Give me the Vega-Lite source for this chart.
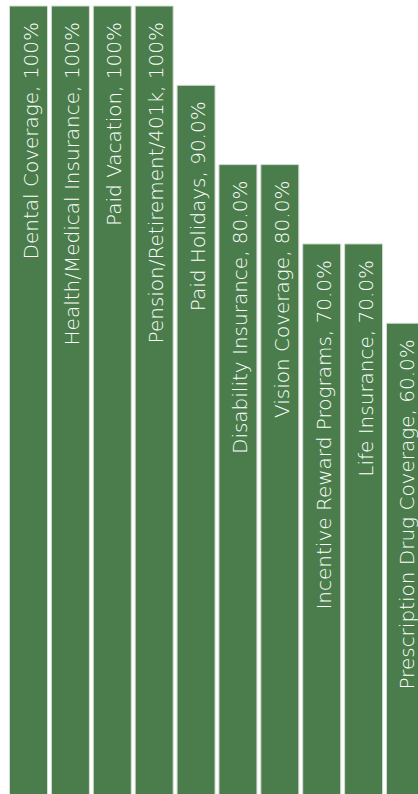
{
  "$schema": "https://vega.github.io/schema/vega-lite/v6.json",
  "width": 434,
  "height": 793,
  "autosize": {"type": "none"},
  "padding": {"left": 0, "top": 6, "right": 0, "bottom": 0},
  "background": "white",
  "config": {"view": {"stroke": null}},
  "data": {
    "values": [
      {"benefit": "Dental Coverage", "value": 100, "label": "Dental Coverage, 100%"},
      {"benefit": "Health/Medical Insurance", "value": 100, "label": "Health/Medical Insurance, 100%"},
      {"benefit": "Paid Vacation", "value": 100, "label": "Paid Vacation, 100%"},
      {"benefit": "Pension/Retirement/401k", "value": 100, "label": "Pension/Retirement/401k, 100%"},
      {"benefit": "Paid Holidays", "value": 90, "label": "Paid Holidays, 90.0%"},
      {"benefit": "Disability Insurance", "value": 80, "label": "Disability Insurance, 80.0%"},
      {"benefit": "Vision Coverage", "value": 80, "label": "Vision Coverage, 80.0%"},
      {"benefit": "Incentive Reward Programs", "value": 70, "label": "Incentive Reward Programs, 70.0%"},
      {"benefit": "Life Insurance", "value": 70, "label": "Life Insurance, 70.0%"},
      {"benefit": "Prescription Drug Coverage", "value": 60, "label": "Prescription Drug Coverage, 60.0%"}
    ]
  },
  "encoding": {
    "x": {"field": "benefit", "type": "nominal", "sort": null, "axis": null,
          "scale": {"paddingInner": 0.093, "paddingOuter": 0.227}},
    "y": {"field": "value", "type": "quantitative", "axis": null,
          "scale": {"domain": [0, 100], "nice": false, "zero": true}}
  },
  "layer": [
    {"mark": {"type": "bar", "color": "#4a7d4b", "stroke": "#d4ddd4", "strokeWidth": 1}},
    {"mark": {"type": "text", "angle": -90, "align": "right", "baseline": "alphabetic",
              "dx": -16, "dy": 9, "color": "white", "font": "DejaVu Sans", "fontWeight": 200, "fontSize": 20},
     "encoding": {"text": {"field": "label"}}}
  ]
}
